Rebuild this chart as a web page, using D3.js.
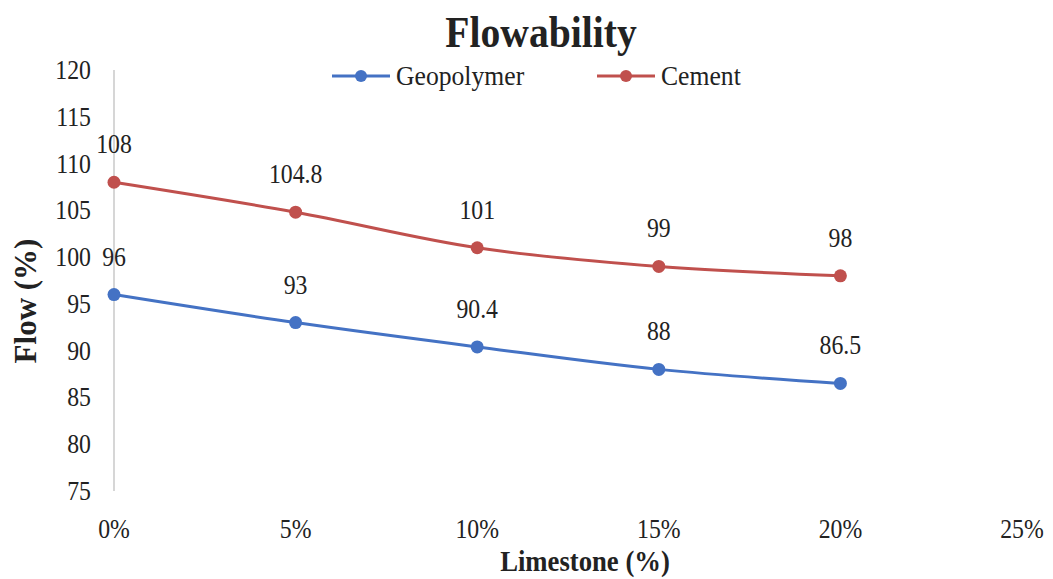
<!DOCTYPE html>
<html>
<head>
<meta charset="utf-8">
<script src="https://cdn.jsdelivr.net/npm/d3@7"></script>
<style>
  body { margin: 0; background: #fff; }
  svg text { font-family: "Liberation Serif", "DejaVu Serif", serif; fill: #222; }
</style>
</head>
<body>
<div id="chart"></div>
<script>
// data
const limestone = [0, 5, 10, 15, 20];
const geopolymer = [96, 93, 90.4, 88, 86.5];
const cement = [108, 104.8, 101, 99, 98];
const xTicks = [0, 5, 10, 15, 20, 25];
const yTicks = [75, 80, 85, 90, 95, 100, 105, 110, 115, 120];
const seriesNames = ["Geopolymer", "Cement"];
const seriesColors = ["#4472C4", "#C0504D"];

const width = 1053, height = 579;
const margin = {top: 70, right: 31, bottom: 88, left: 114};
const serif = "'Liberation Serif', 'DejaVu Serif', serif";

const svg = d3.select("#chart").append("svg")
  .attr("width", width)
  .attr("height", height);

const x = d3.scaleLinear().domain([0, 25]).range([margin.left, width - margin.right]);
const y = d3.scaleLinear().domain([75, 120]).range([height - margin.bottom, margin.top]);

// text is a bit narrow in the original, squeeze it horizontally
function label(px, py, str, opts) {
  opts = opts || {};
  return svg.append("text")
    .attr("transform", `translate(${px},${py}) scale(${opts.sx || 0.88},1)`)
    .attr("text-anchor", opts.anchor || "middle")
    .attr("font-family", serif)
    .attr("font-size", opts.size || 27)
    .attr("font-weight", opts.bold ? "bold" : "normal")
    .text(str);
}

// title
label(541, 47, "Flowability", {size: 44, bold: true, sx: 0.9});

// y axis line
svg.append("line")
  .attr("x1", x(0)).attr("x2", x(0))
  .attr("y1", y(120)).attr("y2", y(75))
  .attr("stroke", "#c8c8c8").attr("stroke-width", 1.5);

yTicks.forEach(v => label(91, y(v) + 9, v, {anchor: "end"}));
xTicks.forEach(v => label(x(v), 538, v + "%"));

label(585, 571, "Limestone (%)", {size: 29, bold: true, sx: 0.92});
svg.append("text")
  .attr("transform", `translate(36,301) rotate(-90)`)
  .attr("text-anchor", "middle")
  .attr("font-family", serif)
  .attr("font-size", 31)
  .attr("font-weight", "bold")
  .text("Flow (%)");

// lines
const line = d3.line()
  .x(d => x(d[0]))
  .y(d => y(d[1]))
  .curve(d3.curveCatmullRom.alpha(0.5));

[geopolymer, cement].forEach((vals, i) => {
  const pts = limestone.map((l, j) => [l, vals[j]]);
  svg.append("path")
    .datum(pts)
    .attr("d", line)
    .attr("fill", "none")
    .attr("stroke", seriesColors[i])
    .attr("stroke-width", 3);
  svg.selectAll(null)
    .data(pts)
    .enter()
    .append("circle")
    .attr("cx", d => x(d[0]))
    .attr("cy", d => y(d[1]))
    .attr("r", 6.5)
    .attr("fill", seriesColors[i]);
  pts.forEach(d => label(x(d[0]), y(d[1]) - 29, d[1]));
});

// legend
const legendX = [332, 597];
seriesNames.forEach((name, i) => {
  const lx = legendX[i], ly = 76;
  svg.append("line")
    .attr("x1", lx).attr("x2", lx + 58)
    .attr("y1", ly).attr("y2", ly)
    .attr("stroke", seriesColors[i]).attr("stroke-width", 3);
  svg.append("circle")
    .attr("cx", lx + 29).attr("cy", ly).attr("r", 6)
    .attr("fill", seriesColors[i]);
  label(lx + 64, ly + 9, name, {anchor: "start", sx: 0.95});
});
</script>
</body>
</html>
